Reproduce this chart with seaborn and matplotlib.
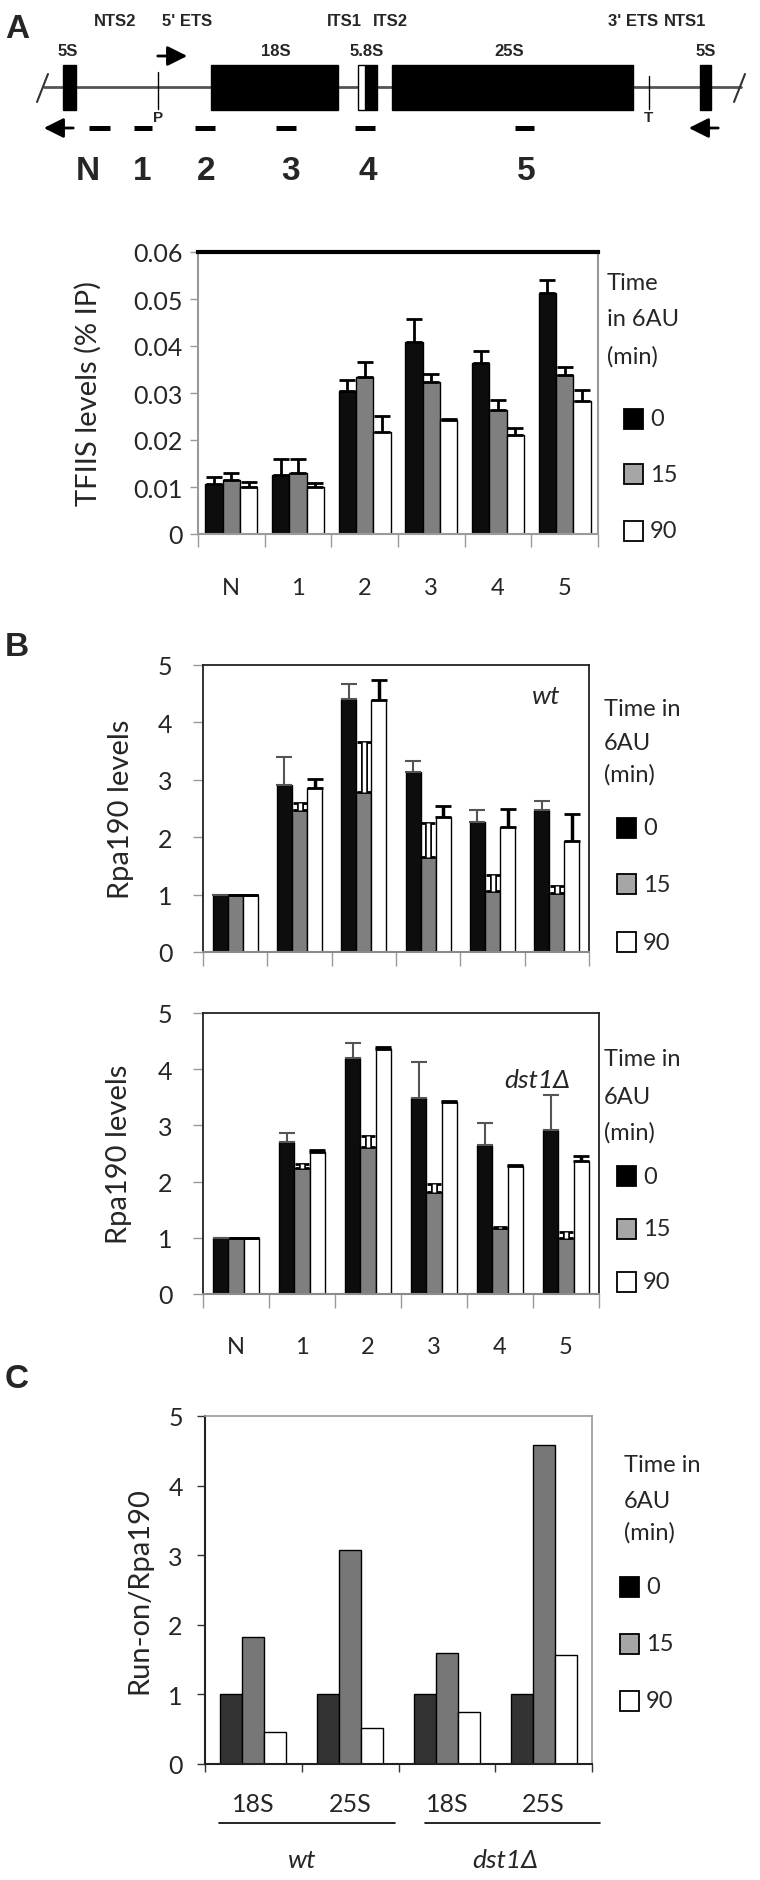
import matplotlib
matplotlib.use("Agg")
import matplotlib.pyplot as plt
from matplotlib.patches import Rectangle
import matplotlib.transforms as mtransforms
import seaborn as sns
import pandas as pd
import numpy as np

W, H = 760, 1881

# ---- data ----
sites = ['N', '1', '2', '3', '4', '5']
times = ['0', '15', '90']

tfiis_0 = [0.0107, 0.0126, 0.0304, 0.0408, 0.0364, 0.0513]
tfiis_15 = [0.0114, 0.0130, 0.0333, 0.0323, 0.0263, 0.0338]
tfiis_90 = [0.0100, 0.0100, 0.0217, 0.0243, 0.0210, 0.0282]
tfiis_err_0 = [0.0014, 0.0034, 0.0024, 0.0050, 0.0025, 0.0028]
tfiis_err_15 = [0.0016, 0.0029, 0.0034, 0.0017, 0.0023, 0.0017]
tfiis_err_90 = [0.0011, 0.0009, 0.0035, 0.0002, 0.0016, 0.0024]

wt_0 = [1.0, 2.91, 4.40, 3.14, 2.27, 2.48]
wt_15 = [1.0, 2.48, 2.78, 1.65, 1.06, 1.03]
wt_90 = [1.0, 2.85, 4.39, 2.35, 2.17, 1.94]
wt_err_0 = [0.0, 0.48, 0.27, 0.19, 0.21, 0.15]
wt_err_15 = [0.0, 0.11, 0.88, 0.59, 0.29, 0.12]
wt_err_90 = [0.0, 0.17, 0.34, 0.20, 0.33, 0.47]

dst_0 = [1.0, 2.71, 4.20, 3.48, 2.65, 2.91]
dst_15 = [1.0, 2.25, 2.61, 1.82, 1.18, 1.00]
dst_90 = [1.0, 2.53, 4.36, 3.41, 2.28, 2.37]
dst_err_0 = [0.0, 0.16, 0.27, 0.64, 0.39, 0.63]
dst_err_15 = [0.0, 0.06, 0.20, 0.13, 0.02, 0.11]
dst_err_90 = [0.0, 0.03, 0.03, 0.02, 0.02, 0.08]

runon_keys = ['18S wt', '25S wt', '18S dst1', '25S dst1']
runon_ticks = ['18S', '25S', '18S', '25S']
runon_0 = [1.0, 1.0, 1.0, 1.0]
runon_15 = [1.83, 3.07, 1.60, 4.59]
runon_90 = [0.46, 0.52, 0.75, 1.56]

# rDNA map (schematic, pixel units of the top strip)
blocks = [('5S', 63, 76), ('18S', 211, 338), ('5.8S', 365, 377), ('25S', 392, 633), ('5S', 700, 711)]
block_label_x = [68, 276, 367, 509, 706]
spacers = ['NTS2', "5' ETS", 'ITS1', 'ITS2', "3' ETS", 'NTS1']
spacer_x = [115, 187, 344, 390, 633, 685]
probe_start = [89, 134, 195, 276, 355, 515]
probe_end = [110, 152, 215, 296, 375, 534]
probe_label_x = [88, 142, 206, 291, 368, 526]

sns.set_theme(style='white')
plt.rcParams['font.family'] = ['Lato', 'DejaVu Sans']
narrow = ['Liberation Sans Narrow', 'Liberation Sans', 'DejaVu Sans']

fig = plt.figure(figsize=(W / 100, H / 100), dpi=100)


def box(x0, y0, x1, y1):
    return [x0 / W, 1 - y1 / H, (x1 - x0) / W, (y1 - y0) / H]


def ftext(x, y, s, **kw):
    kw.setdefault('va', 'center')
    fig.text(x / W, 1 - y / H, s, **kw)


# ---- top: rDNA schematic ----
ax0 = fig.add_axes(box(0, 0, 760, 230))
ax0.set_xlim(0, 760)
ax0.set_ylim(230, 0)
ax0.axis('off')
ax0.plot([44, 741], [88, 88], color='#555555', lw=2, zorder=1)
ax0.plot([37, 48], [103, 75], color='#333333', lw=1.5)
ax0.plot([734, 745], [103, 75], color='#333333', lw=1.5)
for (name, x0, x1) in blocks:
    ax0.add_patch(Rectangle((x0, 66), x1 - x0, 45, color='black', zorder=2))
ax0.add_patch(Rectangle((358, 66), 7, 45, fc='white', ec='black', lw=1, zorder=2))
ax0.plot([158, 158], [73, 110], color='black', lw=1)
ax0.plot([649, 649], [77, 110], color='black', lw=1)
ax0.text(158, 118, 'P', ha='center', va='center', fontsize=11, fontweight='bold', family=narrow)
ax0.text(649, 118, 'T', ha='center', va='center', fontsize=11, fontweight='bold', family=narrow)
for name, x in zip([b[0] for b in blocks], block_label_x):
    ax0.text(x, 52, name, ha='center', va='center', fontsize=12, fontweight='bold', family=narrow)
for name, x in zip(spacers, spacer_x):
    ax0.text(x, 21, name, ha='center', va='center', fontsize=12, fontweight='bold', family=narrow)
arrow = dict(arrowstyle='-|>', lw=2, color='black', mutation_scale=30)
ax0.annotate('', xy=(190, 57), xytext=(155, 57), arrowprops=arrow)
ax0.annotate('', xy=(41, 129), xytext=(76, 129), arrowprops=arrow)
ax0.annotate('', xy=(686, 129), xytext=(721, 129), arrowprops=arrow)
for s, e, lab, lx in zip(probe_start, probe_end, sites, probe_label_x):
    ax0.plot([s, e], [129, 129], color='black', lw=3.6, solid_capstyle='butt')
    ax0.text(lx, 172, lab, ha='center', va='center', fontsize=24, fontweight='bold', family=narrow)
ftext(5, 30, 'A', fontsize=24, fontweight='bold', family=narrow)
ftext(5, 648, 'B', fontsize=24, fontweight='bold', family=narrow)
ftext(5, 1380, 'C', fontsize=24, fontweight='bold', family=narrow)


def long_df(keys, series):
    return pd.DataFrame({
        'site': [k for _ in series for k in keys],
        'time': [t for t, s in zip(times, series) for _ in s],
        'value': [v for s in series for v in s],
    })


def bars(ax, keys, series, colors, width):
    sns.barplot(data=long_df(keys, series), x='site', y='value', hue='time',
                order=keys, hue_order=times, palette=dict(zip(times, colors)),
                edgecolor='black', linewidth=1, width=width, errorbar=None,
                legend=False, ax=ax)


def error_bars(ax, errs, styles):
    for cont, err, st in zip(ax.containers, errs, styles):
        xs = [b.get_x() + b.get_width() / 2 for b in cont]
        ys = [b.get_height() for b in cont]
        yerr = [np.zeros(len(err)), err]
        if st.get('outline'):
            # hollow error bar: black outline with white core
            ax.errorbar(xs, ys, yerr=yerr, fmt='none', ecolor='black',
                        elinewidth=st['lw'] + 2.5, capsize=5, capthick=2, zorder=4)
            ax.errorbar(xs, ys, yerr=yerr, fmt='none', ecolor='white',
                        elinewidth=st['lw'], capsize=0, zorder=5)
        else:
            ax.errorbar(xs, ys, yerr=yerr, fmt='none',
                        ecolor=st.get('color', 'black'), elinewidth=st.get('lw', 1.5),
                        capsize=st.get('cap', 6), capthick=st.get('capthick', 2), zorder=4)


def time_legend(x_title, y_title, lines, x_box, y_entries, colors, fs=17):
    for line, y in zip(lines, y_title):
        ftext(x_title, y, line, fontsize=fs)
    for t, c, y in zip(times, colors, y_entries):
        fig.patches.append(Rectangle((x_box / W, 1 - (y + 10) / H), 19 / W, 20 / H,
                                     transform=fig.transFigure, figure=fig,
                                     fc=c, ec='black', lw=1.3))
        ftext(x_box + 26, y, t, fontsize=fs)


def boundary_ticks(ax, n, length, color):
    ax.set_xticks(np.arange(-0.5, n, 1.0), minor=True)
    ax.tick_params(axis='x', which='minor', bottom=True, length=length, width=1, color=color)
    ax.tick_params(axis='x', which='major', bottom=False, length=0)


# ---- A: TFIIS ----
axA = fig.add_axes(box(198, 253, 598, 535))
bars(axA, sites, [tfiis_0, tfiis_15, tfiis_90], ['#0d0d0d', '#7f7f7f', 'white'], 0.78)
error_bars(axA, [tfiis_err_0, tfiis_err_15, tfiis_err_90],
           [dict(lw=2), dict(lw=2), dict(lw=2)])
axA.set_xlim(-0.5, 5.5)
axA.set_ylim(0, 0.06)
axA.set_yticks(np.arange(0, 0.061, 0.01))
axA.set_yticklabels(['0'] + ['%.2f' % v for v in np.arange(0.01, 0.061, 0.01)])
axA.tick_params(axis='y', left=True, length=6, width=1, color='#999999', pad=5, labelsize=18)
axA.tick_params(axis='x', labelsize=17, pad=31)
boundary_ticks(axA, 6, 9, '#999999')
axA.set_xlabel('')
axA.set_ylabel('TFIIS levels (% IP)', fontsize=21)
axA.yaxis.set_label_coords(-0.24, 0.5)
for side in ['left', 'bottom', 'right']:
    axA.spines[side].set_color('#9a9a9a')
    axA.spines[side].set_linewidth(1.5)
axA.spines['top'].set_color('black')
axA.spines['top'].set_linewidth(3)
time_legend(607, [283, 320, 357], ['Time', 'in 6AU', '(min)'], 624, [420, 475, 532],
            ['black', '#a6a6a6', 'white'])

# ---- B: Rpa190 wt / dst1 ----
styles_B = [dict(lw=1.5, color='#555555', capthick=1.5),
            dict(lw=2.5, outline=True),
            dict(lw=2.5)]
for (y0, y1, x1, ser, err, tag, tag_xy, leg) in [
        (666, 953, 589, [wt_0, wt_15, wt_90], [wt_err_0, wt_err_15, wt_err_90],
         'wt', (546, 697), ([710, 743, 775], [829, 885, 943])),
        (1014, 1295, 599, [dst_0, dst_15, dst_90], [dst_err_0, dst_err_15, dst_err_90],
         'dst1Δ', (537, 1080), ([1059, 1097, 1133], [1177, 1230, 1283]))]:
    ax = fig.add_axes(box(203, y0, x1, y1))
    bars(ax, sites, ser, ['#0d0d0d', '#7f7f7f', 'white'], 0.7)
    error_bars(ax, err, styles_B)
    ax.set_xlim(-0.5, 5.5)
    ax.set_ylim(0, 5)
    ax.set_yticks(range(6))
    ax.tick_params(axis='y', left=True, length=7, width=1, color='#999999', pad=15, labelsize=18)
    ax.tick_params(axis='x', labelsize=17, pad=30)
    boundary_ticks(ax, 6, 10, '#999999')
    ax.set_xlabel('')
    ax.set_ylabel('Rpa190 levels', fontsize=21)
    ax.yaxis.set_label_coords(-0.18, 0.5)
    if tag == 'wt':
        ax.set_xticklabels([])
    for side in ['left', 'top', 'right']:
        ax.spines[side].set_color('#222222')
        ax.spines[side].set_linewidth(1.3)
    ax.spines['bottom'].set_color('#8a8a8a')
    ax.spines['bottom'].set_linewidth(1.5)
    ftext(tag_xy[0], tag_xy[1], tag, fontsize=19, style='italic', ha='center')
    time_legend(604, leg[0], ['Time in', '6AU', '(min)'], 617, leg[1],
                ['black', '#a6a6a6', 'white'])

# ---- C: run-on / Rpa190 ----
axC = fig.add_axes(box(205, 1417, 592, 1765))
bars(axC, runon_keys, [runon_0, runon_15, runon_90], ['#333333', '#777777', 'white'], 0.68)
axC.set_xlim(-0.5, 3.5)
axC.set_ylim(0, 5)
axC.set_yticks(range(6))
axC.set_xticks(range(4))
axC.set_xticklabels(runon_ticks)
axC.tick_params(axis='y', left=True, length=6, width=1, color='#333333', pad=10, labelsize=18)
axC.tick_params(axis='x', labelsize=18, pad=20)
boundary_ticks(axC, 4, 6, '#333333')
axC.set_xlabel('')
axC.set_ylabel('Run-on/Rpa190', fontsize=21)
axC.yaxis.set_label_coords(-0.137, 0.5)
for side in ['left', 'bottom']:
    axC.spines[side].set_color('#222222')
    axC.spines[side].set_linewidth(1.5)
for side in ['top', 'right']:
    axC.spines[side].set_color('#9a9a9a')
    axC.spines[side].set_linewidth(1.2)
trans = mtransforms.blended_transform_factory(axC.transData, axC.transAxes)
for (xa, xb, lab, xl) in [(-0.36, 1.46, 'wt', 0.5), (1.77, 3.58, 'dst1Δ', 2.6)]:
    axC.plot([xa, xb], [-0.17, -0.17], color='black', lw=1.2, transform=trans, clip_on=False)
    axC.text(xl, -0.275, lab, transform=trans, ha='center', va='center', fontsize=19, style='italic')
time_legend(624, [1465, 1502, 1533], ['Time in', '6AU', '(min)'], 620, [1588, 1645, 1702],
            ['black', '#a6a6a6', 'white'])

fig.savefig('out.png', dpi=100)
